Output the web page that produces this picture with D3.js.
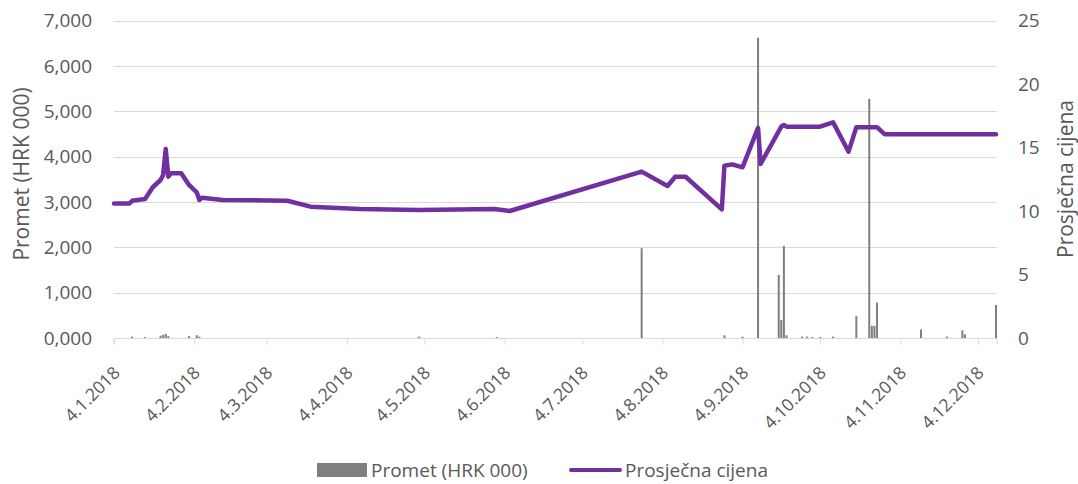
<!DOCTYPE html>
<html lang="hr">
<head>
<meta charset="UTF-8">
<title>Promet i prosječna cijena</title>
<script src="https://cdn.jsdelivr.net/npm/d3@7"></script>
<style>
  body { margin: 0; background: #fff; }
  svg { font-family: "Open Sans", sans-serif; }
</style>
</head>
<body>
<svg id="chart" width="1078" height="484"></svg>
<script>
// Prosječna cijena (desna os)
const lineDates = ['2018-01-04','2018-01-10','2018-01-11','2018-01-16','2018-01-19','2018-01-22','2018-01-23',
  '2018-01-24','2018-01-25','2018-01-26','2018-01-30','2018-02-02','2018-02-05','2018-02-06','2018-02-07',
  '2018-02-15','2018-03-12','2018-03-21','2018-04-09','2018-05-02','2018-05-31','2018-06-06','2018-07-27',
  '2018-08-06','2018-08-09','2018-08-13','2018-08-27','2018-08-28','2018-08-31','2018-09-04','2018-09-10',
  '2018-09-11','2018-09-19','2018-09-20','2018-09-21','2018-10-04','2018-10-09','2018-10-10','2018-10-15',
  '2018-10-18','2018-10-26','2018-10-29','2018-12-11'];
const lineValues = [10.6,10.6,10.8,10.94,11.87,12.44,12.83,
  14.88,12.7,12.97,12.97,12.05,11.47,10.87,11.05,
  10.87,10.81,10.34,10.16,10.08,10.16,10.0,13.1,
  11.97,12.7,12.7,10.13,13.57,13.67,13.44,16.55,
  13.7,16.65,16.77,16.64,16.64,16.98,16.6,14.67,
  16.6,16.6,16.04,16.04];

// Promet (HRK 000) (lijeva os)
const barDates = ['2018-01-11','2018-01-16','2018-01-22','2018-01-23','2018-01-24','2018-01-25','2018-02-02',
  '2018-02-05','2018-02-06','2018-05-02','2018-06-01','2018-07-27','2018-08-28','2018-09-04','2018-09-10',
  '2018-09-18','2018-09-19','2018-09-20','2018-09-21','2018-09-27','2018-09-29','2018-10-01','2018-10-04',
  '2018-10-09','2018-10-18','2018-10-23','2018-10-24','2018-10-25','2018-10-26','2018-11-12','2018-11-22',
  '2018-11-28','2018-11-29','2018-12-11'];
const barValues = [0.03,0.02,0.05,0.07,0.09,0.04,0.04,
  0.06,0.03,0.03,0.02,1.98,0.06,0.03,6.62,
  1.39,0.40,2.03,0.06,0.03,0.03,0.02,0.02,
  0.03,0.48,5.27,0.27,0.27,0.78,0.19,0.03,
  0.17,0.08,0.73];

const leftTicks = [0,1,2,3,4,5,6,7];
const rightTicks = [0,5,10,15,20,25];
const xTickDates = ['2018-01-04','2018-02-04','2018-03-04','2018-04-04','2018-05-04','2018-06-04',
  '2018-07-04','2018-08-04','2018-09-04','2018-10-04','2018-11-04','2018-12-04'];

const seriesNames = ['Promet (HRK 000)', 'Prosječna cijena'];

const parse = d3.timeParse('%Y-%m-%d');
const hr = d3.formatLocale({decimal: ',', thousands: '.', grouping: [3], currency: ['', ' kn']});
const fmtLeft = hr.format('.3f');
const fmtDate = d3.timeFormat('%-d.%-m.%Y');

const plotLeft = 114, plotRight = 996, plotTop = 20.5, plotBottom = 338;
const gray = '#595959';

const svg = d3.select('#chart');

const x = d3.scaleTime()
  .domain([parse('2018-01-04'), parse('2018-12-11')])
  .range([plotLeft, plotRight]);
const yL = d3.scaleLinear().domain([0, 7]).range([plotBottom, plotTop]);
const yR = d3.scaleLinear().domain([0, 25]).range([plotBottom, plotTop]);

// gridlines
svg.append('g')
  .selectAll('line')
  .data(leftTicks.filter(d => d > 0))
  .join('line')
  .attr('x1', plotLeft).attr('x2', plotRight + 1)
  .attr('y1', d => Math.round(yL(d)) + 0.5)
  .attr('y2', d => Math.round(yL(d)) + 0.5)
  .attr('stroke', '#d9d9d9');

// left axis labels
svg.append('g')
  .selectAll('text')
  .data(leftTicks)
  .join('text')
  .attr('x', 92)
  .attr('y', d => yL(d))
  .attr('dy', '0.35em')
  .attr('text-anchor', 'end')
  .attr('fill', gray)
  .style('font-size', '19px')
  .text(d => fmtLeft(d));

// right axis labels
svg.append('g')
  .selectAll('text')
  .data(rightTicks)
  .join('text')
  .attr('x', 1018)
  .attr('y', d => yR(d))
  .attr('dy', '0.35em')
  .attr('fill', gray)
  .style('font-size', '19px')
  .text(d => d);

// bars
const bars = barDates.map((d, i) => ({date: parse(d), value: barValues[i]}));
svg.append('g')
  .selectAll('rect')
  .data(bars)
  .join('rect')
  .attr('x', d => x(d.date) - 1)
  .attr('width', 2)
  .attr('y', d => yL(d.value))
  .attr('height', d => plotBottom - yL(d.value))
  .attr('fill', '#7f7f7f');

// x axis
const xAxis = d3.axisBottom(x)
  .tickValues(xTickDates.map(parse))
  .tickSize(6)
  .tickFormat('');
const gx = svg.append('g')
  .attr('transform', `translate(0,${Math.round(plotBottom) + 0.5})`)
  .call(xAxis);
gx.select('.domain').attr('stroke', '#d9d9d9').attr('d', `M${plotLeft},6V0H${plotRight + 1}V6`);
gx.selectAll('.tick line').attr('stroke', '#d9d9d9');

svg.append('g')
  .selectAll('text')
  .data(xTickDates.map(parse))
  .join('text')
  .attr('transform', d => `translate(${x(d) + 7},374) rotate(-45)`)
  .attr('text-anchor', 'end')
  .attr('fill', gray)
  .style('font-size', '17.5px')
  .text(d => fmtDate(d));

// line
const pts = lineDates.map((d, i) => ({date: parse(d), value: lineValues[i]}));
svg.append('path')
  .datum(pts)
  .attr('fill', 'none')
  .attr('stroke', '#7030a0')
  .attr('stroke-width', 4.5)
  .attr('stroke-linejoin', 'round')
  .attr('stroke-linecap', 'round')
  .attr('d', d3.line().x(d => x(d.date)).y(d => yR(d.value)));

// axis titles
svg.append('text')
  .attr('transform', 'translate(29,174) rotate(-90)')
  .attr('text-anchor', 'middle')
  .attr('fill', gray)
  .style('font-size', '21px')
  .text('Promet (HRK 000)');
svg.append('text')
  .attr('transform', 'translate(1073,179) rotate(-90)')
  .attr('text-anchor', 'middle')
  .attr('fill', gray)
  .style('font-size', '21px')
  .text('Prosječna cijena');

// legend
const lg = svg.append('g');
lg.append('rect').attr('x', 317).attr('y', 463).attr('width', 50).attr('height', 14).attr('fill', '#7f7f7f');
lg.append('text').attr('x', 371).attr('y', 470).attr('dy', '0.35em').attr('fill', gray)
  .style('font-size', '19px').text(seriesNames[0]);
lg.append('line').attr('x1', 571).attr('x2', 620).attr('y1', 470).attr('y2', 470)
  .attr('stroke', '#7030a0').attr('stroke-width', 4).attr('stroke-linecap', 'round');
lg.append('text').attr('x', 625).attr('y', 470).attr('dy', '0.35em').attr('fill', gray)
  .style('font-size', '19px').text(seriesNames[1]);
</script>
</body>
</html>
